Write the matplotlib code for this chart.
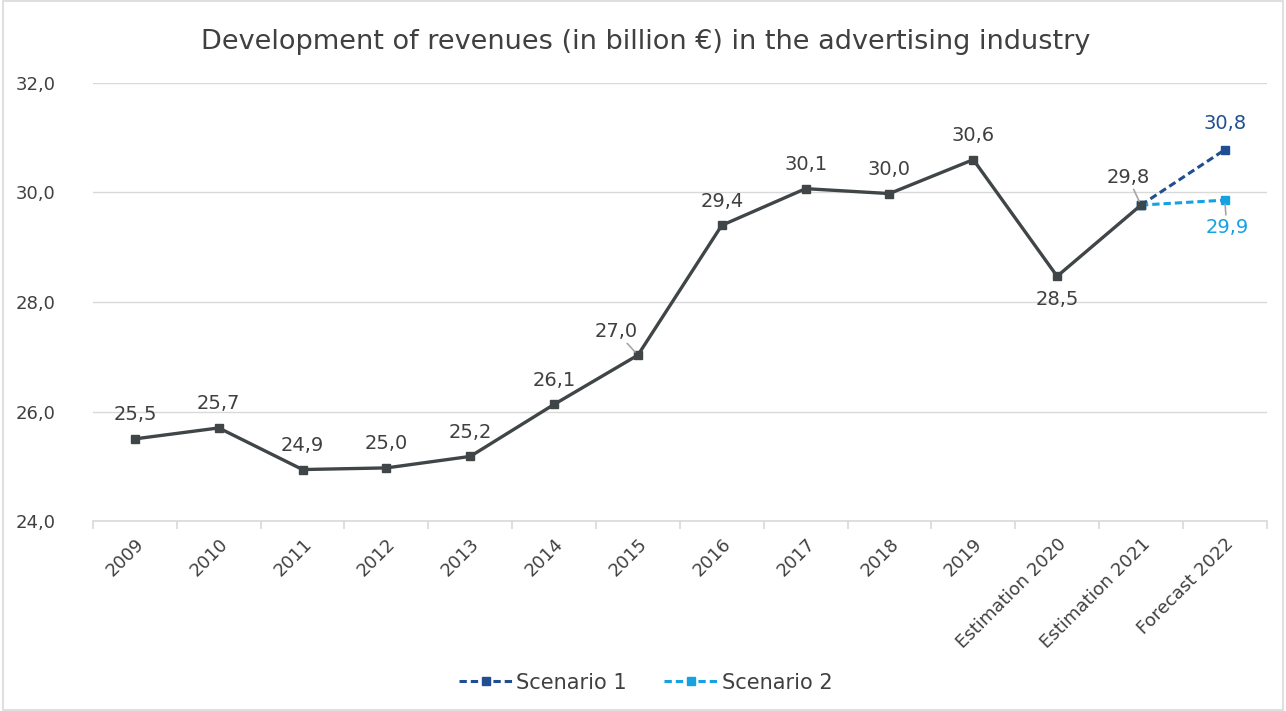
import matplotlib
matplotlib.use("Agg")
import matplotlib.pyplot as plt
from matplotlib.patches import Rectangle
import numpy as np

plt.rcParams['font.family'] = ['DejaVu Sans']

categories = ["2009", "2010", "2011", "2012", "2013", "2014", "2015", "2016",
              "2017", "2018", "2019", "Estimation 2020", "Estimation 2021",
              "Forecast 2022"]
revenues = [25.5, 25.7, 24.94, 24.97, 25.18, 26.13, 27.03, 29.4, 30.07,
            29.98, 30.6, 28.47, 29.77]
scenario1 = [29.77, 30.78]
scenario2 = [29.77, 29.86]

main_color = "#404548"
s1_color = "#1F4E93"
s2_color = "#14A2E3"
grid_color = "#D9D9D9"
text_color = "#404040"

DPI = 100
fig = plt.figure(figsize=(12.86, 7.11), dpi=DPI)
ax = fig.add_axes([0.0723, 0.2672, 0.9127, 0.6161])

x = np.arange(len(categories))
x_main = x[:len(revenues)]
x_fc = x[len(revenues) - 1:]

ax.plot(x_fc, scenario1, color=s1_color, lw=2.2, ls=(0, (2.4, 1.3)),
        marker='s', ms=6, label="Scenario 1", zorder=3)
ax.plot(x_fc, scenario2, color=s2_color, lw=2.2, ls=(0, (2.4, 1.3)),
        marker='s', ms=6, label="Scenario 2", zorder=3)
ax.plot(x_main, revenues, color=main_color, lw=2.4, marker='s', ms=6.3,
        zorder=4)

ax.set_xlim(-0.5, len(categories) - 0.5)
ax.set_ylim(24, 32)
yt = np.arange(24, 32.1, 2)
ax.set_yticks(yt)
ax.set_yticklabels([f"{v:.1f}".replace('.', ',') for v in yt])
ax.grid(axis='y', color=grid_color, lw=1)
ax.set_axisbelow(True)

for side in ('top', 'right', 'left'):
    ax.spines[side].set_visible(False)
ax.spines['bottom'].set_color(grid_color)
ax.spines['bottom'].set_linewidth(1.2)

ax.set_xticks(x)
ax.set_xticklabels(categories, rotation=45, ha='right', rotation_mode='anchor',
                   fontsize=13, color=text_color)
ax.tick_params(axis='x', which='major', length=0, pad=10)
ax.set_xticks(np.arange(-0.5, len(categories), 1), minor=True)
ax.tick_params(axis='x', which='minor', length=6, color=grid_color, width=1.2)
ax.tick_params(axis='y', length=0, pad=56, labelsize=13, labelcolor=text_color)
for lbl in ax.get_yticklabels():
    lbl.set_horizontalalignment('left')

px = 72.0 / DPI


def fmt(v):
    return f"{v:.1f}".replace('.', ',')


# data labels: (x, value, offset in px (dx, dy), colour, leader line)
labels = []
for i, v in enumerate(revenues):
    dx, dy, leader = 0, 24, False
    if i == 6:
        dx, dy, leader = -22, 24, True
    elif i == 11:
        dy = -23
    elif i == 12:
        dx, dy, leader = -13, 28, True
    labels.append((i, v, dx, dy, text_color, leader))
labels.append((x_fc[1], scenario1[1], 0, 26, s1_color, False))
labels.append((x_fc[1], scenario2[1], 2, -27, s2_color, True))

for xi, v, dx, dy, col, leader in labels:
    kw = {}
    if leader:
        kw['arrowprops'] = dict(arrowstyle='-', color='#A6A6A6', lw=1.2,
                                shrinkA=0, shrinkB=3)
    ax.annotate(fmt(v), (xi, v), xytext=(dx * px, dy * px),
                textcoords='offset points', ha='center', va='center',
                fontsize=14, color=col, zorder=5, **kw)

fig.suptitle("Development of revenues (in billion \u20ac) in the advertising industry",
             x=0.502, y=0.941, va='center', fontsize=19.5, color=text_color)

leg = fig.legend(loc='center', bbox_to_anchor=(0.502, 0.04), ncol=2, frameon=False,
                 fontsize=15, handlelength=2.6, columnspacing=1.8,
                 handletextpad=0.15)
for t in leg.get_texts():
    t.set_color(text_color)

fig.patches.append(Rectangle((0.002, 0.002), 0.996, 0.996, transform=fig.transFigure,
                             fill=False, edgecolor=grid_color, lw=1.2))

fig.savefig("out.png", dpi=DPI)
